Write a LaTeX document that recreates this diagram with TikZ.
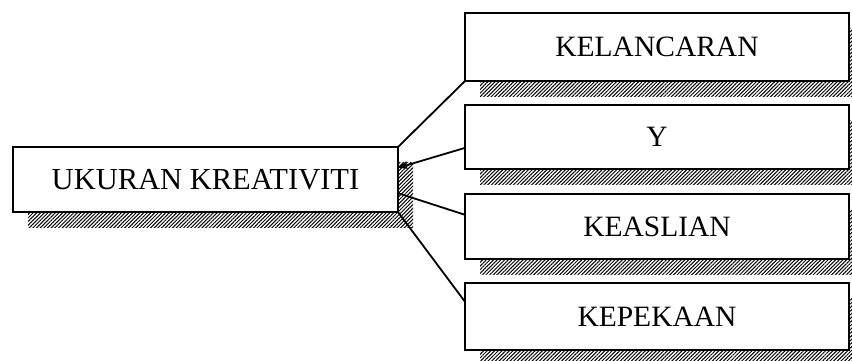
\documentclass[tikz,border=0pt]{standalone}
\usepackage{fontspec}
\setmainfont{Liberation Serif}
\usetikzlibrary{patterns.meta,backgrounds,arrows.meta,calc}
\begin{document}
\begin{tikzpicture}[x=1pt,y=-1pt,
  box/.style={draw=black,line width=2pt,fill=white,inner sep=0pt,outer sep=0pt,
    minimum width=384pt,font=\fontsize{29.5}{31}\selectfont},
  mainbox/.style={box,minimum width=385pt,minimum height=65pt,font=\fontsize{30.5}{32}\selectfont},
  shadowpat/.style={pattern={Lines[angle=45,distance=2.6pt,line width=1pt]},pattern color=black},
  conn/.style={line width=1.8pt,draw=black}]
\useasboundingbox (0,0) rectangle (852,360);
\node[mainbox] (L) at (205.5,179.5) {UKURAN KREATIVITI};
\node[box,minimum height=68pt] (K1) at (657,47) {KELANCARAN};
\node[box,minimum height=64pt] (K2) at (657,137) {Y};
\node[box,minimum height=65pt] (K3) at (657,226.5) {KEASLIAN};
\node[box,minimum height=67pt] (K4) at (657,316.5) {KEPEKAAN};
\begin{scope}[on background layer]
  \foreach \n in {L,K1,K2,K3,K4}{
    \fill[shadowpat] ([shift={(15pt,-15pt)}]\n.south west) rectangle ([shift={(15pt,-15pt)}]\n.north east);
  }
\end{scope}
\coordinate (l2) at ($(L.north east)!0.32!(L.south east)$);
\coordinate (l3) at ($(L.north east)!0.71!(L.south east)$);
\coordinate (r2) at ($(K2.north west)!0.67!(K2.south west)$);
\coordinate (r3) at ($(K3.north west)!0.32!(K3.south west)$);
\coordinate (r4) at ($(K4.north west)!0.28!(K4.south west)$);
\draw[conn] (L.north east) -- (K1.south west);
\draw[conn,-{Stealth[length=10pt,width=8pt]}] (r2) -- (l2);
\draw[conn] (l3) -- (r3);
\draw[conn] (L.south east) -- (r4);
\end{tikzpicture}
\end{document}
